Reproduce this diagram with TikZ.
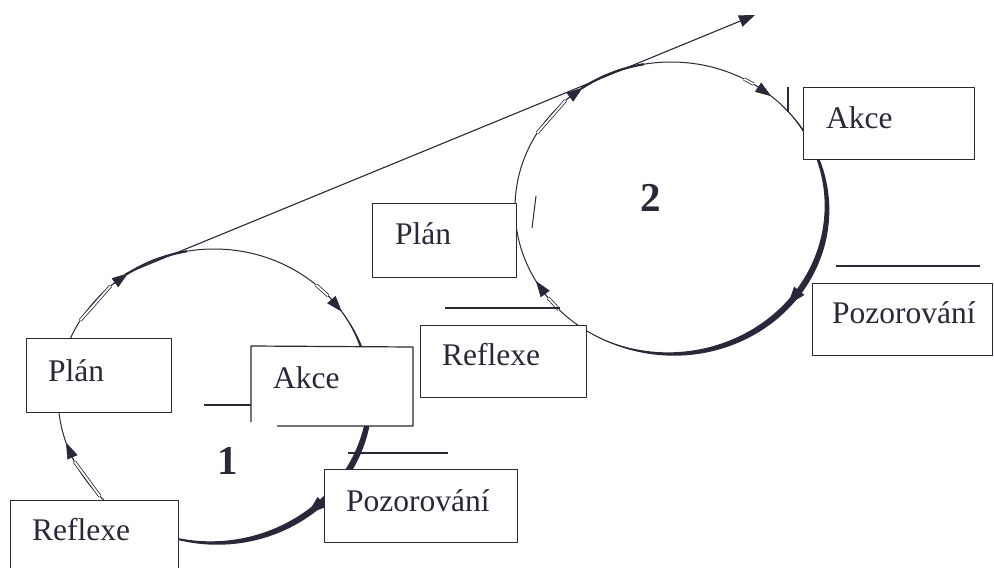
\documentclass[tikz,border=0pt]{standalone}
\usepackage{fontspec}
\setmainfont{Liberation Serif}
\usetikzlibrary{arrows.meta}
\definecolor{ink}{RGB}{40,40,58}
\newcommand{\onA}[2]{\coordinate (#1) at ({214+156*cos(#2)},{396-147*sin(#2)});}
\newcommand{\onB}[2]{\coordinate (#1) at ({671+156*cos(#2)},{208-146*sin(#2)});}
\begin{document}
\begin{tikzpicture}[x=1pt,y=-1pt,line join=round,
  box/.style={draw=ink,line width=1.2pt,fill=white,inner sep=0pt,anchor=north west},
  boxline/.style={draw=ink,line width=1.2pt},
  lbl/.style={anchor=base west,inner sep=0pt,text=ink,font=\fontsize{31.5}{36}\selectfont},
  num/.style={inner sep=0pt,text=ink,font=\fontsize{41}{48}\selectfont\bfseries},
  ring/.style={draw=ink,line width=1pt},
  shaft/.style={draw=ink,line width=0.8pt,double=white,double distance=1.8pt},
  headtip/.style={draw=ink,fill=ink,line width=0.6pt,-{Triangle[length=16pt,width=11pt]}},
  bighead/.style={draw=ink,fill=ink,line width=0.6pt,-{Triangle[length=18pt,width=13pt]}},
  rule/.style={draw=ink,line width=1.1pt}]
\useasboundingbox (0,0) rectangle (994,568);
\clip (0,0) rectangle (994,568);

% ---------- ring 1 ----------
\draw[ring] (214,396) ellipse [x radius=156pt, y radius=147pt];
\fill[ink] plot[smooth,domain=38:-118,samples=60,variable=\t]
  ({214+(156+3.2*sin((38-\t)/156*180))*cos(\t)},{396-(147+3.2*sin((38-\t)/156*180))*sin(\t)})
  -- plot[smooth,domain=-118:38,samples=60,variable=\t]
  ({214+(156-3.2*sin((38-\t)/156*180))*cos(\t)},{396-(147-3.2*sin((38-\t)/156*180))*sin(\t)})
  -- cycle;
\draw[ink,line width=2.2pt] plot[smooth,domain=124:100,samples=12,variable=\t]
  ({214+156*cos(\t)},{396-147*sin(\t)});

% ---------- ring 2 ----------
\draw[ring] (671,208) ellipse [x radius=156pt, y radius=146pt];
\fill[ink] plot[smooth,domain=45:-120,samples=60,variable=\t]
  ({671+(156+3.1*sin((45-\t)/165*180))*cos(\t)},{208-(146+3.1*sin((45-\t)/165*180))*sin(\t)})
  -- plot[smooth,domain=-120:45,samples=60,variable=\t]
  ({671+(156-3.1*sin((45-\t)/165*180))*cos(\t)},{208-(146-3.1*sin((45-\t)/165*180))*sin(\t)})
  -- cycle;
\draw[ink,line width=2.2pt] plot[smooth,domain=125:100,samples=12,variable=\t]
  ({671+156*cos(\t)},{208-146*sin(\t)});

% ---------- arrows on ring 1 ----------
\onA{a1tail}{149} \onA{a1base}{131.5} \onA{a1tip}{123.5}
\onA{a2tail}{49}  \onA{a2base}{43}  \onA{a2tip}{35}
\onA{a3base}{-45} \onA{a3tip}{-53}
\onA{a4tail}{223} \onA{a4base}{206.5} \onA{a4tip}{198.5}
\draw[shaft] (a1tail) -- (a1base);
\draw[headtip] (a1base) -- (a1tip);
\draw[shaft] (a2tail) -- (a2base);
\draw[headtip] (a2base) -- (a2tip);
\draw[bighead] (a3base) -- (a3tip);
\draw[shaft] (a4tail) -- (a4base);
\draw[headtip] (a4base) -- (a4tip);

% ---------- arrows on ring 2 ----------
\onB{b1tail}{149} \onB{b1base}{132.5} \onB{b1tip}{124.5}
\onB{b2tail}{62}  \onB{b2base}{58}  \onB{b2tip}{50}
\onB{b3base}{-33.5} \onB{b3tip}{-41.5}
\onB{b4tail}{224} \onB{b4base}{218} \onB{b4tip}{210}
\draw[shaft] (b1tail) -- (b1base);
\draw[headtip] (b1base) -- (b1tip);
\draw[shaft] (b2tail) -- (b2base);
\draw[headtip] (b2base) -- (b2tip);
\draw[bighead] (b3base) -- (b3tip);
\draw[shaft] (b4tail) -- (b4base);
\draw[headtip] (b4base) -- (b4tip);

% ---------- long tangent arrow ----------
\coordinate (tstart) at (125,274);
\coordinate (tend) at (755,15);
\draw[ink,line width=1.1pt,-{Triangle[length=16pt,width=12pt]}] (tstart) -- (tend);

% ---------- boxes of cycle 1 ----------
\node[box,minimum width=145pt,minimum height=74pt] (plan1) at (26,338) {};
\node[box,minimum width=168pt,minimum height=90pt] (refl1) at (10,500) {};
\node[box,minimum width=193pt,minimum height=73pt] (poz1) at (324,469) {};
\node[fill=white,inner sep=0pt,anchor=north west,minimum width=162pt,minimum height=80pt] (akce1) at (251,346) {};
\draw[boxline] (251,422) -- (251,346) -- (413,347) -- (413,426) -- (277,426);
\draw[rule] (204,405) -- (251,405);
\draw[rule] (348,453) -- (448,453);

% ---------- boxes of cycle 2 ----------
\node[box,minimum width=144pt,minimum height=74pt] (plan2) at (372,203) {};
\node[box,minimum width=166pt,minimum height=72pt] (refl2) at (420,325) {};
\node[box,minimum width=171pt,minimum height=72pt] (akce2) at (803,87) {};
\node[box,minimum width=180pt,minimum height=72pt] (poz2) at (812,283) {};
\draw[rule] (445,308) -- (560,308);
\draw[rule] (836,266) -- (980,266);
\draw[rule] (788,87) -- (788,112);
\draw[ink,line width=1pt] (536,196) -- (532,228);

% ---------- labels ----------
\node[lbl] (tplan1) at (48,381) {Plán};
\node[lbl] (takce1) at (273,388) {Akce};
\node[lbl] (trefl1) at (32,540) {Reflexe};
\node[lbl] (tpoz1) at (346,511) {Pozorování};
\node[lbl] (tplan2) at (395,244) {Plán};
\node[lbl] (trefl2) at (442,365) {Reflexe};
\node[lbl] (takce2) at (826,128) {Akce};
\node[lbl] (tpoz2) at (832,323) {Pozorování};
\node[num] (n1) at (228,461) {1};
\node[num] (n2) at (651,198) {2};
\end{tikzpicture}
\end{document}
